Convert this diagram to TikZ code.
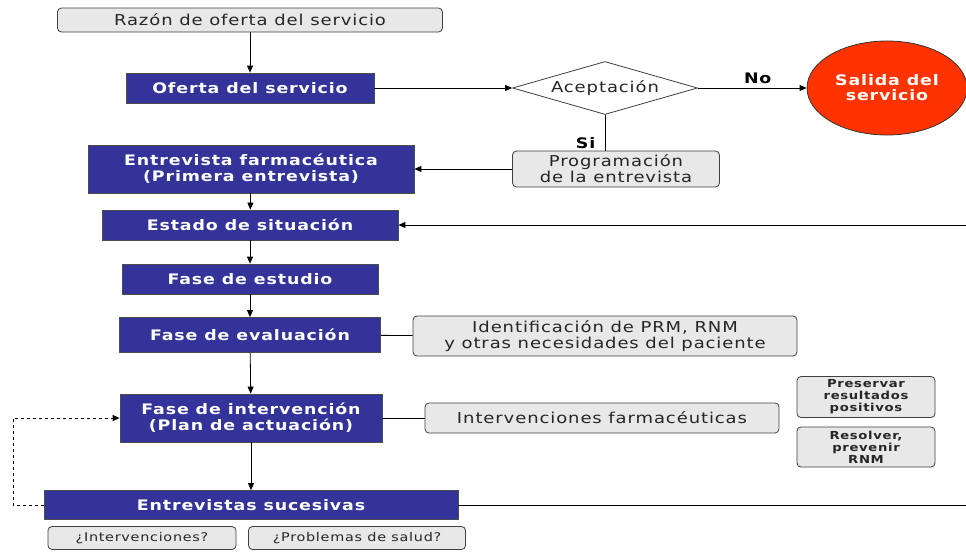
\documentclass[tikz,border=0pt]{standalone}
\usepackage{fontspec}
\setmainfont{DejaVu Sans}[FakeStretch=1.2,LetterSpace=6]
\usetikzlibrary{shapes.geometric,arrows.meta}

\definecolor{azulfase}{HTML}{333399}
\definecolor{grisclaro}{HTML}{E8E8E8}
\definecolor{rojosalida}{HTML}{FF3300}

\begin{document}
\begin{tikzpicture}[x=1pt,y=-1pt,line width=0.8pt,
  fase/.style={draw=black!70,fill=azulfase,text=white,align=center,inner sep=0pt,
    font=\bfseries\fontsize{14.5}{16}\selectfont},
  caja/.style={draw=black!75,fill=grisclaro,rounded corners=4pt,align=center,inner sep=0pt,
    font=\fontsize{15}{16}\selectfont,text=black!85},
  cajita/.style={caja,font=\bfseries\fontsize{11}{12}\selectfont},
  etiqueta/.style={font=\bfseries\fontsize{14.5}{16}\selectfont},
  flecha/.style={-{Triangle[length=7pt,width=6pt]}}
]
  % Marco de la imagen
  \useasboundingbox (0,0) rectangle (966,552);

  % Inicio del servicio
  \node[caja,minimum width=385pt,minimum height=24pt] (razon) at (250,20) {Razón de oferta del servicio};
  \node[fase,minimum width=248pt,minimum height=30pt] (oferta) at (250,88) {Oferta del servicio};
  \node[diamond,aspect=3.5,draw=black!75,fill=white,inner sep=0pt,minimum width=185pt,minimum height=53pt,
    font=\fontsize{15}{16}\selectfont,text=black!85] (acepta) at (605,88) {Aceptación};
  \node[ellipse,draw=black!80,fill=rojosalida,text=white,align=center,inner sep=0pt,
    minimum width=160pt,minimum height=94pt,font=\bfseries\fontsize{14.5}{15}\selectfont]
    (salida) at (887,88) {Salida del\\servicio};
  \node[caja,minimum width=207pt,minimum height=36pt] (programa) at (616,169) {Programación\\de la entrevista};

  % Fases (columna central)
  \node[fase,minimum width=326pt,minimum height=48pt] (primera) at (251,169) {Entrevista farmacéutica\\(Primera entrevista)};
  \node[fase,minimum width=296pt,minimum height=30pt] (estado) at (250,225) {Estado de situación};
  \node[fase,minimum width=256pt,minimum height=30pt] (estudio) at (250,279) {Fase de estudio};
  \node[fase,minimum width=261pt,minimum height=35pt] (evalua) at (250,335) {Fase de evaluación};
  \node[fase,minimum width=262pt,minimum height=48pt] (interv) at (251,418) {Fase de intervención\\(Plan de actuación)};
  \node[fase,minimum width=414pt,minimum height=29pt] (sucesivas) at (251,505) {Entrevistas sucesivas};

  % Cajas laterales
  \node[caja,minimum width=384pt,minimum height=40pt] (identifica) at (605,336) {Identificación de PRM, RNM\\y otras necesidades del paciente};
  \node[caja,minimum width=354pt,minimum height=30pt] (farmaceut) at (602,418) {Intervenciones farmacéuticas};
  \node[cajita,minimum width=138pt,minimum height=41pt] (preserva) at (866,397) {Preservar\\resultados\\positivos};
  \node[cajita,minimum width=138pt,minimum height=40pt] (resuelve) at (866,447) {Resolver,\\prevenir\\RNM};
  \node[caja,minimum width=188pt,minimum height=23pt,font=\fontsize{12}{13}\selectfont] (preg1) at (142,538) {¿Intervenciones?};
  \node[caja,minimum width=217pt,minimum height=23pt,font=\fontsize{12}{13}\selectfont] (preg2) at (357,538) {¿Problemas de salud?};

  % Puntos en el borde
  \coordinate (bordeA) at (966,225);
  \coordinate (bordeB) at (966,505);
  \coordinate (vuelta) at (13,505);

  % Conectores
  \draw[flecha] (razon) -- (oferta);
  \draw[flecha] (oferta) -- (acepta);
  \draw[flecha] (acepta) -- node[etiqueta,above=1pt,pos=0.55] {No} (salida);
  \draw (acepta.south) -- node[etiqueta,left=6pt,pos=0.8] {Si} (programa.north -| acepta.south);
  \draw[flecha] (programa) -- (primera);
  \draw[flecha] (primera) -- (estado);
  \draw[flecha] (estado) -- (estudio);
  \draw[flecha] (estudio) -- (evalua);
  \draw[flecha] (evalua) -- (interv);
  \draw[flecha] (interv) -- (sucesivas);
  \draw (evalua) -- (identifica);
  \draw (interv) -- (farmaceut);
  \draw[flecha] (bordeA) -- (estado);
  \draw (sucesivas) -- (bordeB);
  \draw[flecha,dashed] (sucesivas) -- (vuelta) |- (interv);
\end{tikzpicture}
\end{document}
